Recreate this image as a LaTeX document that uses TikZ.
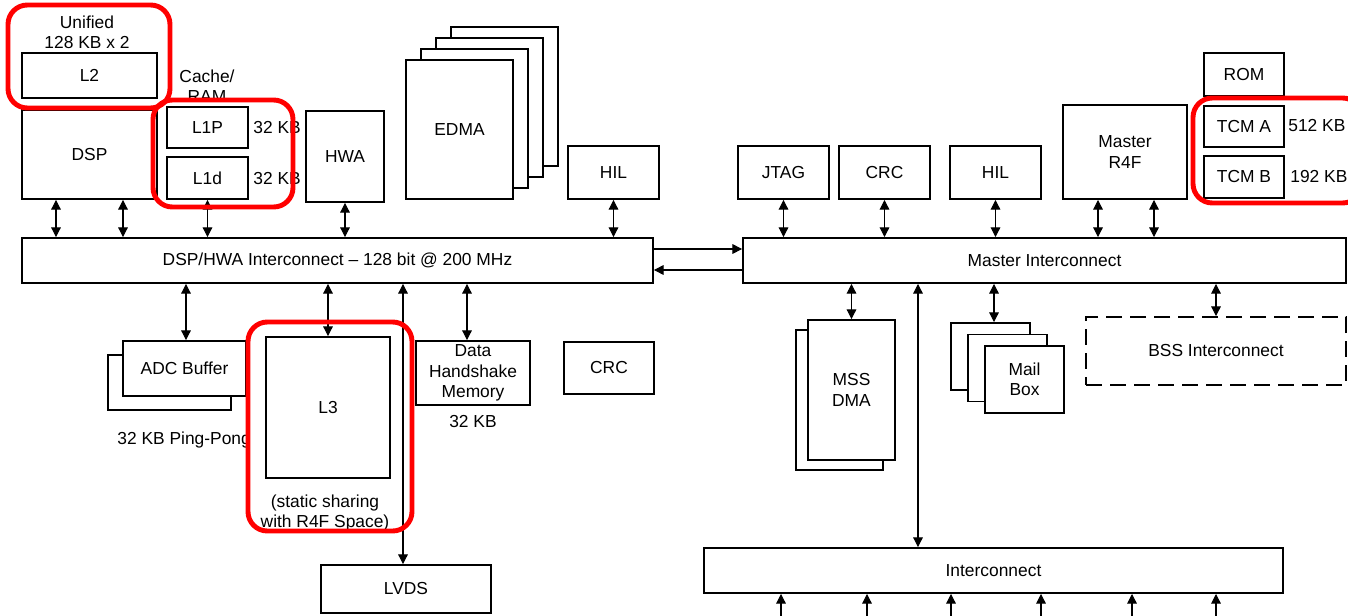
\documentclass[tikz,border=0pt]{standalone}
\usepackage{fontspec}
\setmainfont{Liberation Sans}
\usetikzlibrary{arrows.meta}

\begin{document}
\begin{tikzpicture}[x=0.02cm, y=-0.02cm,
    blk/.style={draw, line width=1.1pt, fill=white, inner sep=1pt, align=center, font=\fontsize{9.9}{11.6}\selectfont},
    lbl/.style={inner sep=0pt, align=center, font=\fontsize{9.9}{11.6}\selectfont},
    conn/.style={<->, >={Triangle[length=5.5pt,width=5.5pt]}, line width=0.6pt},
    conn1/.style={->, >={Triangle[length=5.5pt,width=5.5pt]}, line width=0.6pt},
    hl/.style={draw=red, line width=2.8pt, rounded corners=11pt}]

  \useasboundingbox (0,0) rectangle (1348,615);

  % DSP side, top row
  \node[lbl] (unif) at (87,32) {Unified\\128 KB x 2};
  \node[blk, minimum width=2.70cm, minimum height=0.90cm] (l2) at (89.5,75.5) {L2};
  \node[blk, minimum width=2.70cm, minimum height=1.78cm] (dsp) at (89.5,154.5) {DSP};
  \node[lbl] (cache) at (207,86) {Cache/\\RAM};
  \node[blk, minimum width=1.62cm, minimum height=0.82cm] (l1p) at (207.5,127.5) {L1P};
  \node[blk, minimum width=1.62cm, minimum height=0.84cm] (l1d) at (207.5,178) {L1d};
  \node[lbl, anchor=west] (l1psz) at (253,128) {32 KB};
  \node[lbl, anchor=west] (l1dsz) at (253,179) {32 KB};
  \node[blk, minimum width=1.56cm, minimum height=1.82cm] (hwa) at (345,156.5) {HWA};

  % EDMA stack
  \foreach \k in {3,2,1}
    \node[blk, minimum width=2.14cm, minimum height=2.78cm] (edma\k) at (459.5+15*\k, 129.5-11*\k) {};
  \node[blk, minimum width=2.14cm, minimum height=2.78cm] (edma) at (459.5,129.5) {EDMA};

  \node[blk, minimum width=1.82cm, minimum height=1.06cm] (hila) at (613.5,172.5) {HIL};

  % Master side, top row
  \node[blk, minimum width=1.82cm, minimum height=1.06cm] (jtag) at (783.5,172.5) {JTAG};
  \node[blk, minimum width=1.82cm, minimum height=1.06cm] (crca) at (884.5,172.5) {CRC};
  \node[blk, minimum width=1.82cm, minimum height=1.06cm] (hilb) at (995.5,172.5) {HIL};
  \node[blk, minimum width=2.48cm, minimum height=1.88cm] (r4f) at (1125,152) {Master\\R4F};
  \node[blk, minimum width=1.60cm, minimum height=0.86cm] (rom) at (1244,74.5) {ROM};
  \node[blk, minimum width=1.60cm, minimum height=0.82cm] (tcma) at (1244,126.5) {TCM A};
  \node[blk, minimum width=1.60cm, minimum height=0.84cm] (tcmb) at (1244,177) {TCM B};
  \node[lbl, anchor=west] (tcmasz) at (1288,126) {512 KB};
  \node[lbl, anchor=west] (tcmbsz) at (1290,177) {192 KB};

  % Buses
  \node[blk, minimum width=12.62cm, minimum height=0.90cm] (dspbus) at (337.5,260.5) {DSP/HWA Interconnect -- 128 bit @ 200 MHz};
  \node[blk, minimum width=12.06cm, minimum height=0.90cm] (mstbus) at (1044.5,260.5) {Master Interconnect};
  \node[blk, minimum width=11.58cm, minimum height=0.90cm] (icbus) at (993.5,570.5) {Interconnect};

  % DSP side, bottom row
  \node[blk, minimum width=2.46cm, minimum height=1.10cm] (adcb) at (169.5,382.5) {};
  \node[blk, minimum width=2.46cm, minimum height=1.10cm] (adc) at (184.5,368.5) {ADC Buffer};
  \node[lbl, anchor=west] (adcsz) at (117,440) {32 KB Ping-Pong};
  \node[blk, minimum width=2.48cm, minimum height=2.82cm] (l3) at (328,407.5) {L3};
  \node[lbl] (l3note) at (325,513) {(static sharing\\with R4F Space)};
  \node[blk, minimum width=2.28cm, minimum height=1.28cm] (dhm) at (473,373) {Data\\Handshake\\Memory};
  \node[lbl] (dhmsz) at (473,422) {32 KB};
  \node[blk, minimum width=1.80cm, minimum height=1.04cm] (crcb) at (609,368) {CRC};
  \node[blk, minimum width=3.40cm, minimum height=0.96cm] (lvds) at (406,589) {LVDS};

  % Master side, bottom row
  \node[blk, minimum width=1.74cm, minimum height=2.80cm] (mssb) at (839.5,400) {};
  \node[blk, minimum width=1.74cm, minimum height=2.80cm] (mss) at (851.5,390) {MSS\\DMA};
  \foreach \k in {2,1}
    \node[blk, minimum width=1.58cm, minimum height=1.34cm] (mail\k) at (1024.5-17*\k, 379.5-11.5*\k) {};
  \node[blk, minimum width=1.58cm, minimum height=1.34cm] (mail) at (1024.5,379.5) {Mail\\Box};
  \node[blk, dash pattern=on 0.32cm off 0.16cm, minimum width=5.20cm, minimum height=1.36cm] (bss) at (1216,351) {BSS Interconnect};

  % Connectors to the DSP/HWA bus
  \draw[conn] (56,0 |- dsp.south) -- (56,0 |- dspbus.north);
  \draw[conn] (123,0 |- dsp.south) -- (123,0 |- dspbus.north);
  \draw[conn] (l1d.south) -- (l1d.south |- dspbus.north);
  \draw[conn] (hwa.south) -- (hwa.south |- dspbus.north);
  \draw[conn] (hila.south) -- (hila.south |- dspbus.north);
  \draw[conn] (186,0 |- dspbus.south) -- (186,0 |- adc.north);
  \draw[conn] (l3.north |- dspbus.south) -- (l3.north);
  \draw[conn] (403,0 |- dspbus.south) -- (403,0 |- lvds.north);
  \draw[conn] (467,0 |- dspbus.south) -- (467,0 |- dhm.north);

  % Bus to bus
  \draw[conn1] (dspbus.east |- 0,249) -- (mstbus.west |- 0,249);
  \draw[conn1] (mstbus.west |- 0,270) -- (dspbus.east |- 0,270);

  % Connectors to the master bus
  \draw[conn] (jtag.south) -- (jtag.south |- mstbus.north);
  \draw[conn] (crca.south) -- (crca.south |- mstbus.north);
  \draw[conn] (hilb.south) -- (hilb.south |- mstbus.north);
  \draw[conn] (1098,0 |- r4f.south) -- (1098,0 |- mstbus.north);
  \draw[conn] (1154,0 |- r4f.south) -- (1154,0 |- mstbus.north);
  \draw[conn] (mss.north |- mstbus.south) -- (mss.north);
  \draw[conn] (918,0 |- mstbus.south) -- (918,0 |- icbus.north);
  \draw[conn] (994,0 |- mstbus.south) -- (994,0 |- mail2.north);
  \draw[conn] (bss.north |- mstbus.south) -- (bss.north);

  % Inputs to the lower interconnect
  \foreach \x [count=\i] in {781,867,951,1041,1132,1216} {
    \coordinate (in\i) at (\x,620);
    \draw[conn1] (in\i) -- (in\i |- icbus.south);
  }

  % Highlights
  \draw[hl] (8,5) rectangle (170,108);
  \draw[hl] (153,100) rectangle (293,207);
  \draw[hl] (1193,98) rectangle (1362,203);
  \draw[hl] (248,322) rectangle (412,531);
\end{tikzpicture}
\end{document}
